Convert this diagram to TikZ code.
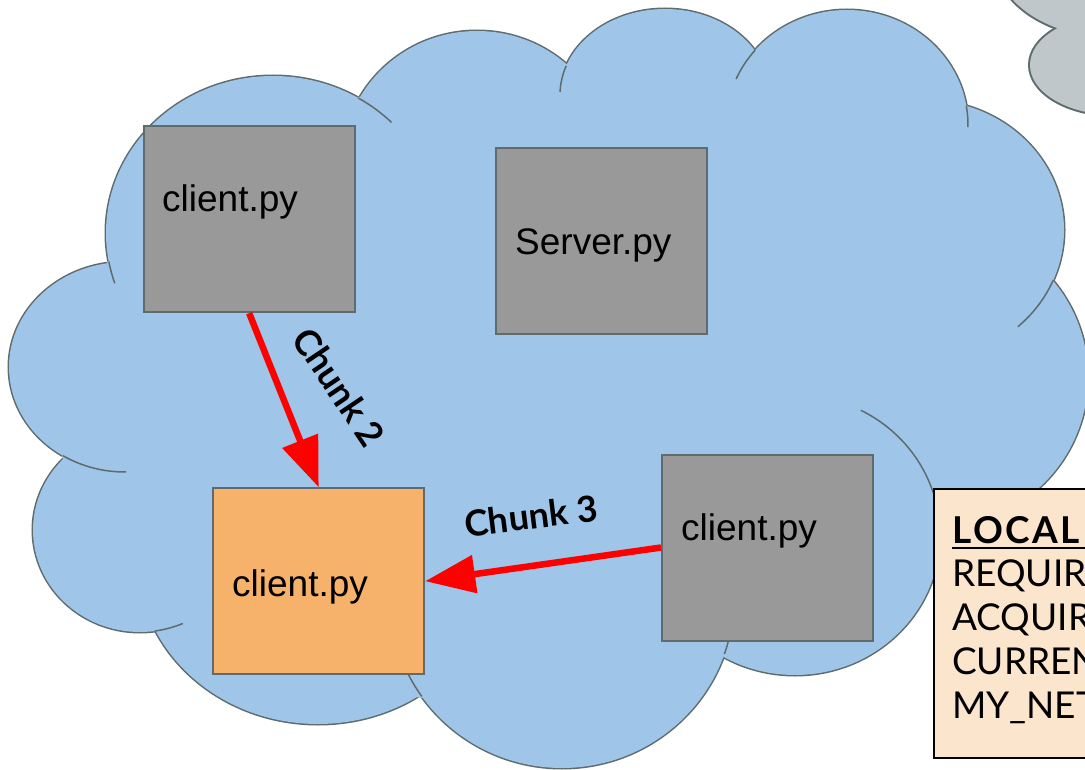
\documentclass[tikz,border=0pt]{standalone}
\usepackage{fontspec}
\setmainfont{Liberation Sans}
\newfontfamily\latofont{Lato}
\newfontfamily\latowide[LetterSpace=7]{Lato}
\usetikzlibrary{arrows.meta}

\definecolor{cloudblue}{HTML}{9FC5E8}
\definecolor{edgegray}{HTML}{5F6B6D}
\definecolor{boxgray}{HTML}{999999}
\definecolor{peerorange}{HTML}{F6B26B}
\definecolor{statepeach}{HTML}{FCE5CD}
\definecolor{farcloud}{HTML}{BFC7CB}

% one visible seam of a cloud lobe: centre, radii, start and end angle
\newcommand\cloudseam[6]{%
  \draw[seam] (#1,#2) ++(#5:#3 and #4)
    arc[start angle=#5, end angle=#6, x radius=#3, y radius=#4];}

\begin{document}
\begin{tikzpicture}[x=1pt,y=-1pt,
  rim/.style={draw=edgegray,line width=3pt},
  seam/.style={draw=edgegray,line width=1.5pt},
  pybox/.style={draw=edgegray,line width=2pt,fill=boxgray,
    minimum width=211pt,minimum height=186pt,inner sep=0pt},
  pylabel/.style={anchor=base west,inner sep=0pt,
    font=\fontsize{37}{44}\selectfont},
  chunklabel/.style={inner sep=0pt,
    font=\latofont\bfseries\fontsize{36}{42}\selectfont},
  statetext/.style={anchor=base west,inner sep=0pt,
    font=\latofont\fontsize{37}{44}\selectfont},
  transfer/.style={draw=red,line width=6.5pt,
    -{Triangle[length=50pt,width=37pt]}},
]
\useasboundingbox (0,0) rectangle (1085,770);
\fill[white] (0,0) rectangle (1085,770);
\clip (0,0) rectangle (1085,770);

% neighbouring grey cloud, top right
\foreach \cx/\cy/\rx/\ry in {1110/-43/115/80, 1115/65/85/50, 1170/20/90/90}
  \filldraw[draw=edgegray,line width=4pt,fill=farcloud]
    (\cx,\cy) ellipse [x radius=\rx, y radius=\ry];
\foreach \cx/\cy/\rx/\ry in {1110/-43/115/80, 1115/65/85/50, 1170/20/90/90}
  \fill[farcloud] (\cx,\cy) ellipse [x radius=\rx, y radius=\ry];

% main cloud: outlined lobes, then refilled so only the rim stays
\def\lobes{273/233/167/157, 477/163/135/132, 665/95/105/86,
  847/125/121/115, 925/230/139/130, 938/377/150/150,
  795/535/145/140, 562/598/172/170, 318/560/180/164,
  140/530/107/102, 125/367/116/105}
\foreach \cx/\cy/\rx/\ry in \lobes
  \filldraw[rim,fill=cloudblue]
    (\cx,\cy) ellipse [x radius=\rx, y radius=\ry];
\fill[cloudblue] (107,262) -- (359,97) -- (570,67) -- (755,50)
  -- (967,106) -- (1053,280) -- (940,520) -- (722,653)
  -- (420,698) -- (155,630) -- (62,457) -- cycle;
\foreach \cx/\cy/\rx/\ry in \lobes
  \fill[cloudblue] (\cx,\cy) ellipse [x radius=\rx, y radius=\ry];

% inner seams where lobes overlap
\cloudseam{125}{367}{116}{105}{122.4}{89.5}
\cloudseam{273}{233}{167}{157}{169.5}{161.3}
\cloudseam{273}{233}{167}{157}{-59.3}{-44.8}
\cloudseam{665}{95}{105}{86}{199.8}{182}
\cloudseam{847}{125}{121}{115}{220.6}{203.6}
\cloudseam{847}{125}{121}{115}{-9.5}{1}
\cloudseam{925}{230}{139}{130}{22.7}{48.1}
\cloudseam{795}{535}{145}{140}{-63}{-10}
\cloudseam{562}{598}{172}{170}{19.2}{8}
\cloudseam{562}{598}{172}{170}{144.6}{153.2}
\cloudseam{140}{530}{107}{102}{81.9}{66.4}

% processes
\node[pybox] (clientA) at (249.2,219.2) {};
\node[pybox] (server)  at (601.7,241.2) {};
\node[pybox] (clientB) at (767.5,547.5) {};
\node[pybox,fill=peerorange] (peer) at (318.7,581.2) {};

\node[pylabel] (clientAtext) at (162,212) {client.py};
\node[pylabel] (servertext)  at (515,254.5) {Server.py};
\node[pylabel] (clientBtext) at (681,540) {client.py};
\node[pylabel] (peertext)    at (232,596) {client.py};

% chunk transfers
\draw[transfer] (clientA.south) -- (peer.north);
\draw[transfer] (clientB.west) -- (peer.east);
\node[chunklabel,rotate=-56] (chunk2) at (339,387) {Chunk 2};
\node[chunklabel,rotate=7]   (chunk3) at (531,516) {Chunk 3};

% local state panel
\node[draw=black,line width=2pt,fill=statepeach,anchor=north west,
  minimum width=200pt,minimum height=269pt,inner sep=0pt]
  (state) at (932.7,488) {};
\node[statetext,font=\latowide\bfseries\fontsize{37}{44}\selectfont]
  (statehead) at (952,543) {LOCAL STATE};
\draw[line width=2.7pt] (952,548) -- (1090,548);
\node[statetext] (required) at (952,586) {REQUIRED\_CHUNKS};
\node[statetext] (acquired) at (952,630) {ACQUIRED\_CHUNKS};
\node[statetext] (current)  at (952,674) {CURRENT\_CHUNK};
\node[statetext] (network)  at (952,718) {MY\_NETWORK};
\end{tikzpicture}
\end{document}
